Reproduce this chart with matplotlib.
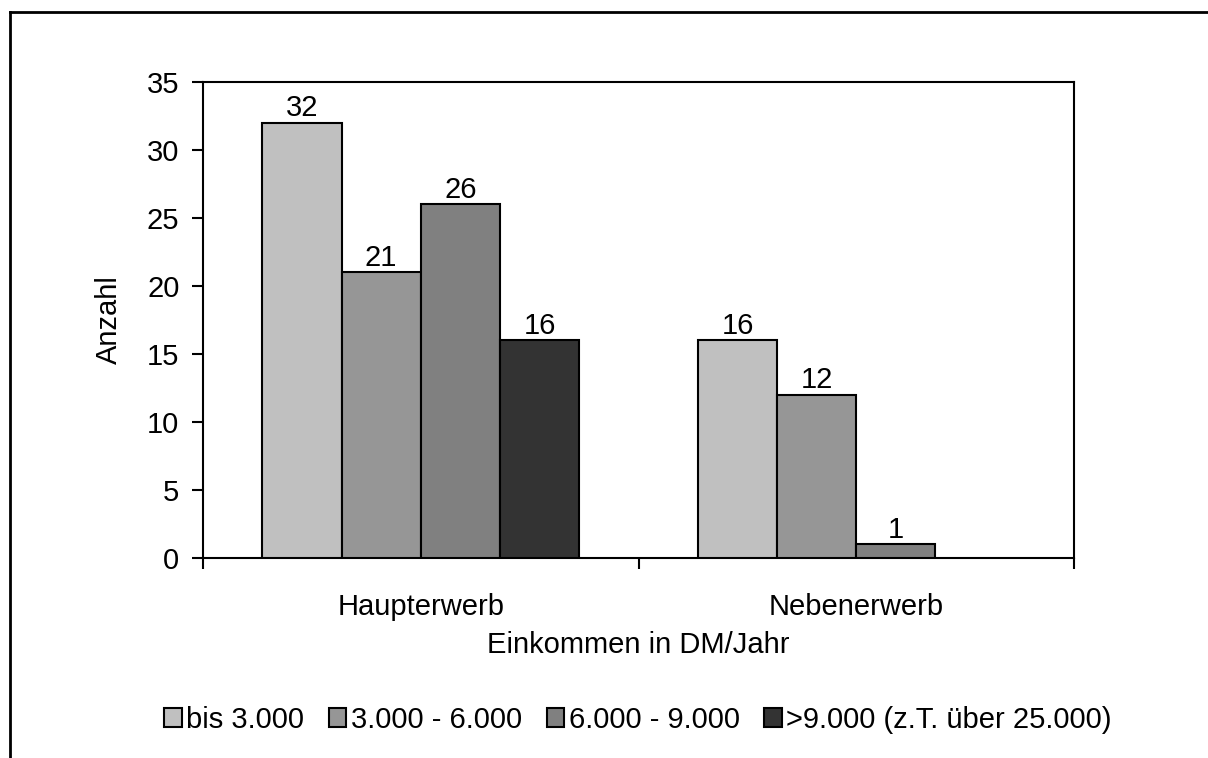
import numpy as np
import matplotlib.pyplot as plt
from matplotlib.patches import Patch
from matplotlib.lines import Line2D

plt.rcParams['font.family'] = ['Liberation Sans', 'DejaVu Sans']

categories = ["Haupterwerb", "Nebenerwerb"]
series_names = ["bis 3.000", "3.000 - 6.000", "6.000 - 9.000", ">9.000 (z.T. über 25.000)"]
values = [
    [32, 16],
    [21, 12],
    [26, 1],
    [16, np.nan],
]
colors = ["#C0C0C0", "#969696", "#808080", "#333333"]

FS = 21
W, H = 1208, 758

fig = plt.figure(figsize=(W / 100, H / 100), dpi=100)
ax = fig.add_axes([203 / W, 1 - 558 / H, (1074 - 203) / W, (558 - 82) / H])

n = len(series_names)
gap = 1.5
w = 1.0 / (n + gap)
x = np.arange(len(categories))
for i, (name, vals, c) in enumerate(zip(series_names, values, colors)):
    pos = x + (i - (n - 1) / 2) * w
    vals = np.array(vals, dtype=float)
    mask = ~np.isnan(vals)
    bars = ax.bar(pos[mask], vals[mask], width=w, color=c, edgecolor="black",
                  linewidth=1.5, label=name, zorder=3)
    for b, v in zip(bars, vals[mask]):
        ax.text(b.get_x() + b.get_width() / 2, v + 0.05, f"{int(v)}",
                ha="center", va="bottom", fontsize=FS)

ax.set_xlim(-0.5, 1.5)
ax.set_ylim(0, 35)
ax.set_yticks(range(0, 36, 5))
ax.set_xticks([-0.5, 0.5, 1.5], minor=False)
ax.set_xticklabels([])
ax.set_xticks(x, minor=True)
ax.set_xticklabels(categories, minor=True)
ax.tick_params(axis="x", which="major", direction="out", length=8, width=1.5)
ax.tick_params(axis="x", which="minor", length=0, pad=25, labelsize=FS)
ax.tick_params(axis="y", direction="out", length=8, width=1.5, labelsize=FS, pad=9)
for s in ax.spines.values():
    s.set_linewidth(1.5)
ax.set_ylabel("Anzahl", fontsize=FS)
ax.yaxis.set_label_coords((123 - 203) / 871, 0.5)
ax.set_xlabel("Einkommen in DM/Jahr", fontsize=FS)
ax.xaxis.set_label_coords(0.5, (558 - 631) / 476)

handles = [Patch(facecolor=c, edgecolor="black", linewidth=1.5) for c in colors]
fig.legend(handles, series_names, loc="center", bbox_to_anchor=(638 / W, 1 - 720 / H),
           ncol=4, frameon=False, fontsize=FS, handlelength=0.6, handleheight=0.6,
           handletextpad=0.15, columnspacing=0.85)

# outer chart frame (left and top edges)
fig.add_artist(Line2D([10 / W, 10 / W], [0, 1 - 12 / H], transform=fig.transFigure,
                      color="black", linewidth=2))
fig.add_artist(Line2D([10 / W, 1], [1 - 12 / H, 1 - 12 / H], transform=fig.transFigure,
                      color="black", linewidth=2))

fig.savefig("out.png", dpi=100)
